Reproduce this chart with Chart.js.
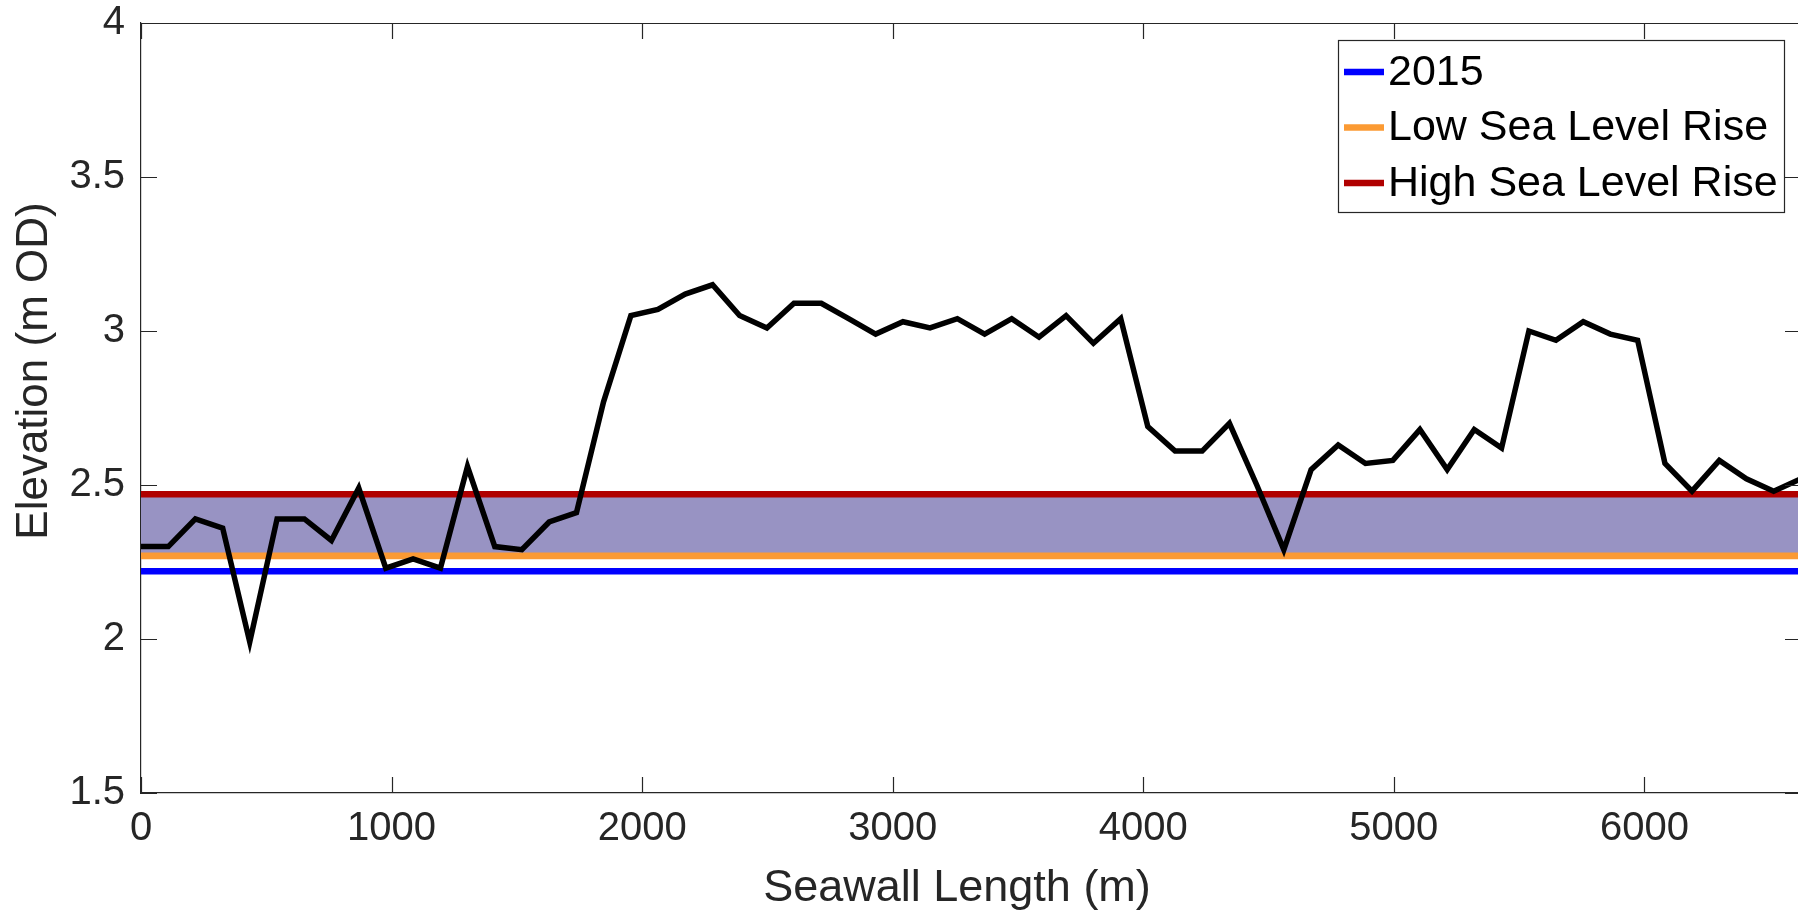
<!DOCTYPE html>
<html>
<head>
<meta charset="utf-8">
<title>Seawall elevation</title>
<script src="https://cdn.jsdelivr.net/npm/chart.js@4/dist/chart.umd.min.js"></script>
<style>
  html, body { margin: 0; padding: 0; background: #fff; overflow: hidden; width: 1798px; height: 923px; }
  #wrap { position: absolute; left: 0; top: 0; width: 1801px; height: 923px; }
</style>
</head>
<body>
<div id="wrap"><canvas id="chart"></canvas></div>
<script>
// Chainage along the seawall (m)
const distances = [
  0, 109, 217, 326, 434, 543, 652, 760, 869, 977,
  1086, 1195, 1303, 1412, 1520, 1629, 1738, 1846, 1955, 2063,
  2172, 2281, 2389, 2498, 2606, 2715, 2824, 2932, 3041, 3149,
  3258, 3367, 3475, 3584, 3692, 3801, 3910, 4018, 4127, 4235,
  4344, 4453, 4561, 4670, 4778, 4887, 4996, 5104, 5213, 5321,
  5430, 5539, 5647, 5756, 5864, 5973, 6082, 6190, 6299, 6407,
  6516, 6625
];

// Crest elevation (m OD)
const elevation = [
  2.30, 2.30, 2.39, 2.36, 1.99, 2.39, 2.39, 2.32, 2.49, 2.23,
  2.26, 2.23, 2.56, 2.30, 2.29, 2.38, 2.41, 2.77, 3.05, 3.07,
  3.12, 3.15, 3.05, 3.01, 3.09, 3.09, 3.04, 2.99, 3.03, 3.01,
  3.04, 2.99, 3.04, 2.98, 3.05, 2.96, 3.04, 2.69, 2.61, 2.61,
  2.70, 2.50, 2.29, 2.55, 2.63, 2.57, 2.58, 2.68, 2.55, 2.68,
  2.62, 3.00, 2.97, 3.03, 2.99, 2.97, 2.57, 2.48, 2.58, 2.52,
  2.48, 2.52
];

// Still water levels (m OD)
const scenarioLabels = ['2015', 'Low Sea Level Rise', 'High Sea Level Rise'];
const scenarioLevels = [2.22, 2.27, 2.47];
const scenarioColors = ['#0000ff', '#fb9a33', '#b00000'];

const xTickValues = [0, 1000, 2000, 3000, 4000, 5000, 6000];
const yTickValues = [1.5, 2, 2.5, 3, 3.5, 4];

const xTitle = 'Seawall Length (m)';
const yTitle = 'Elevation (m OD)';

const AXIS_COLOR = '#262626';
const BAND_COLOR = '#9893c3';
const FONT = "'Liberation Sans', Arial, Helvetica, sans-serif";
const xMax = distances[distances.length - 1];

Chart.defaults.font.family = FONT;

function levelLine(i) {
  return [{ x: 0, y: scenarioLevels[i] }, { x: xMax, y: scenarioLevels[i] }];
}

// Inward tick marks on all four sides, plus the top/right frame
const boxTicks = {
  id: 'boxTicks',
  afterDatasetsDraw(chart) {
    const { ctx, chartArea: a, scales: { x, y } } = chart;
    const len = 16;
    ctx.save();
    ctx.strokeStyle = AXIS_COLOR;
    ctx.lineWidth = 1.2;
    ctx.beginPath();
    xTickValues.forEach(v => {
      const px = Math.round(x.getPixelForValue(v)) + 0.5;
      ctx.moveTo(px, a.bottom); ctx.lineTo(px, a.bottom - len);
      ctx.moveTo(px, a.top); ctx.lineTo(px, a.top + len);
    });
    yTickValues.forEach(v => {
      const py = Math.round(y.getPixelForValue(v)) + 0.5;
      ctx.moveTo(a.left, py); ctx.lineTo(a.left + len, py);
      ctx.moveTo(a.right, py); ctx.lineTo(a.right - len, py);
    });
    ctx.moveTo(a.left, a.top + 0.5); ctx.lineTo(a.right, a.top + 0.5);
    ctx.moveTo(a.right - 0.5, a.top); ctx.lineTo(a.right - 0.5, a.bottom);
    ctx.stroke();
    ctx.restore();
  }
};

// Axis titles
const axisTitles = {
  id: 'axisTitles',
  afterDraw(chart) {
    const { ctx, chartArea: a } = chart;
    ctx.save();
    ctx.fillStyle = AXIS_COLOR;
    ctx.textAlign = 'center';
    ctx.textBaseline = 'middle';
    ctx.font = '45px ' + FONT;
    ctx.fillText(xTitle, (a.left + a.right) / 2 - 14, a.bottom + 96);
    ctx.translate(35, a.top + 348);
    ctx.rotate(-Math.PI / 2);
    ctx.font = '44px ' + FONT;
    ctx.fillText(yTitle, 0, 0);
    ctx.restore();
  }
};

// Boxed legend in the upper right of the plot
const boxLegend = {
  id: 'boxLegend',
  afterDraw(chart) {
    const { ctx, chartArea: a } = chart;
    const right = a.right - 17, top = a.top + 17;
    const width = 446, rowH = 55.5, padTop = 32, padBottom = 29;
    const left = right - width;
    const height = padTop + rowH * (scenarioLabels.length - 1) + padBottom;
    ctx.save();
    ctx.fillStyle = '#ffffff';
    ctx.fillRect(left, top, width, height);
    ctx.strokeStyle = AXIS_COLOR;
    ctx.lineWidth = 1.2;
    ctx.strokeRect(left + 0.5, top + 0.5, width, height);
    ctx.font = '43px ' + FONT;
    ctx.textBaseline = 'middle';
    ctx.textAlign = 'left';
    scenarioLabels.forEach((label, i) => {
      const cy = top + padTop + i * rowH;
      ctx.strokeStyle = scenarioColors[i];
      ctx.lineWidth = 6.7;
      ctx.beginPath();
      ctx.moveTo(left + 6, cy);
      ctx.lineTo(left + 46, cy);
      ctx.stroke();
      ctx.fillStyle = '#000000';
      ctx.fillText(label, left + 50, cy + 1);
    });
    ctx.restore();
  }
};

const datasets = [
  {
    label: 'Seawall crest',
    data: distances.map((d, i) => ({ x: d, y: elevation[i] })),
    borderColor: '#000000',
    borderWidth: 5.5,
    borderJoinStyle: 'miter',
    fill: false
  },
  {
    label: scenarioLabels[2],
    data: levelLine(2),
    borderColor: scenarioColors[2],
    borderWidth: 6.7,
    backgroundColor: BAND_COLOR,
    fill: { target: 2 }
  },
  {
    label: scenarioLabels[1],
    data: levelLine(1),
    borderColor: scenarioColors[1],
    borderWidth: 6.7,
    fill: false
  },
  {
    label: scenarioLabels[0],
    data: levelLine(0),
    borderColor: scenarioColors[0],
    borderWidth: 6.7,
    fill: false
  }
];

new Chart(document.getElementById('chart'), {
  type: 'line',
  data: { datasets },
  options: {
    responsive: true,
    maintainAspectRatio: false,
    animation: false,
    events: [],
    layout: { padding: { top: 23, right: 0, bottom: 0, left: 0 } },
    elements: { point: { radius: 0 }, line: { tension: 0 } },
    plugins: {
      legend: { display: false },
      tooltip: { enabled: false },
      filler: { drawTime: 'beforeDatasetsDraw' }
    },
    scales: {
      x: {
        type: 'linear',
        position: 'bottom',
        min: 0,
        max: xMax,
        grid: { display: false, drawTicks: false },
        border: { display: true, color: AXIS_COLOR, width: 1.2 },
        ticks: {
          color: AXIS_COLOR,
          font: { size: 40 },
          padding: 12,
          maxRotation: 0,
          autoSkip: false,
          callback: v => String(v)
        },
        afterBuildTicks: s => { s.ticks = xTickValues.map(v => ({ value: v })); },
        afterFit: s => { s.height = 130; s.paddingLeft = 0; s.paddingRight = 0; }
      },
      y: {
        type: 'linear',
        position: 'left',
        min: 1.5,
        max: 4,
        grid: { display: false, drawTicks: false },
        border: { display: true, color: AXIS_COLOR, width: 1.2 },
        ticks: {
          color: AXIS_COLOR,
          font: { size: 40 },
          padding: 16,
          callback: v => String(v)
        },
        afterBuildTicks: s => { s.ticks = yTickValues.map(v => ({ value: v })); },
        afterFit: s => { s.width = 141; s.paddingTop = 0; s.paddingBottom = 0; }
      }
    }
  },
  plugins: [boxTicks, axisTitles, boxLegend]
});
</script>
</body>
</html>
